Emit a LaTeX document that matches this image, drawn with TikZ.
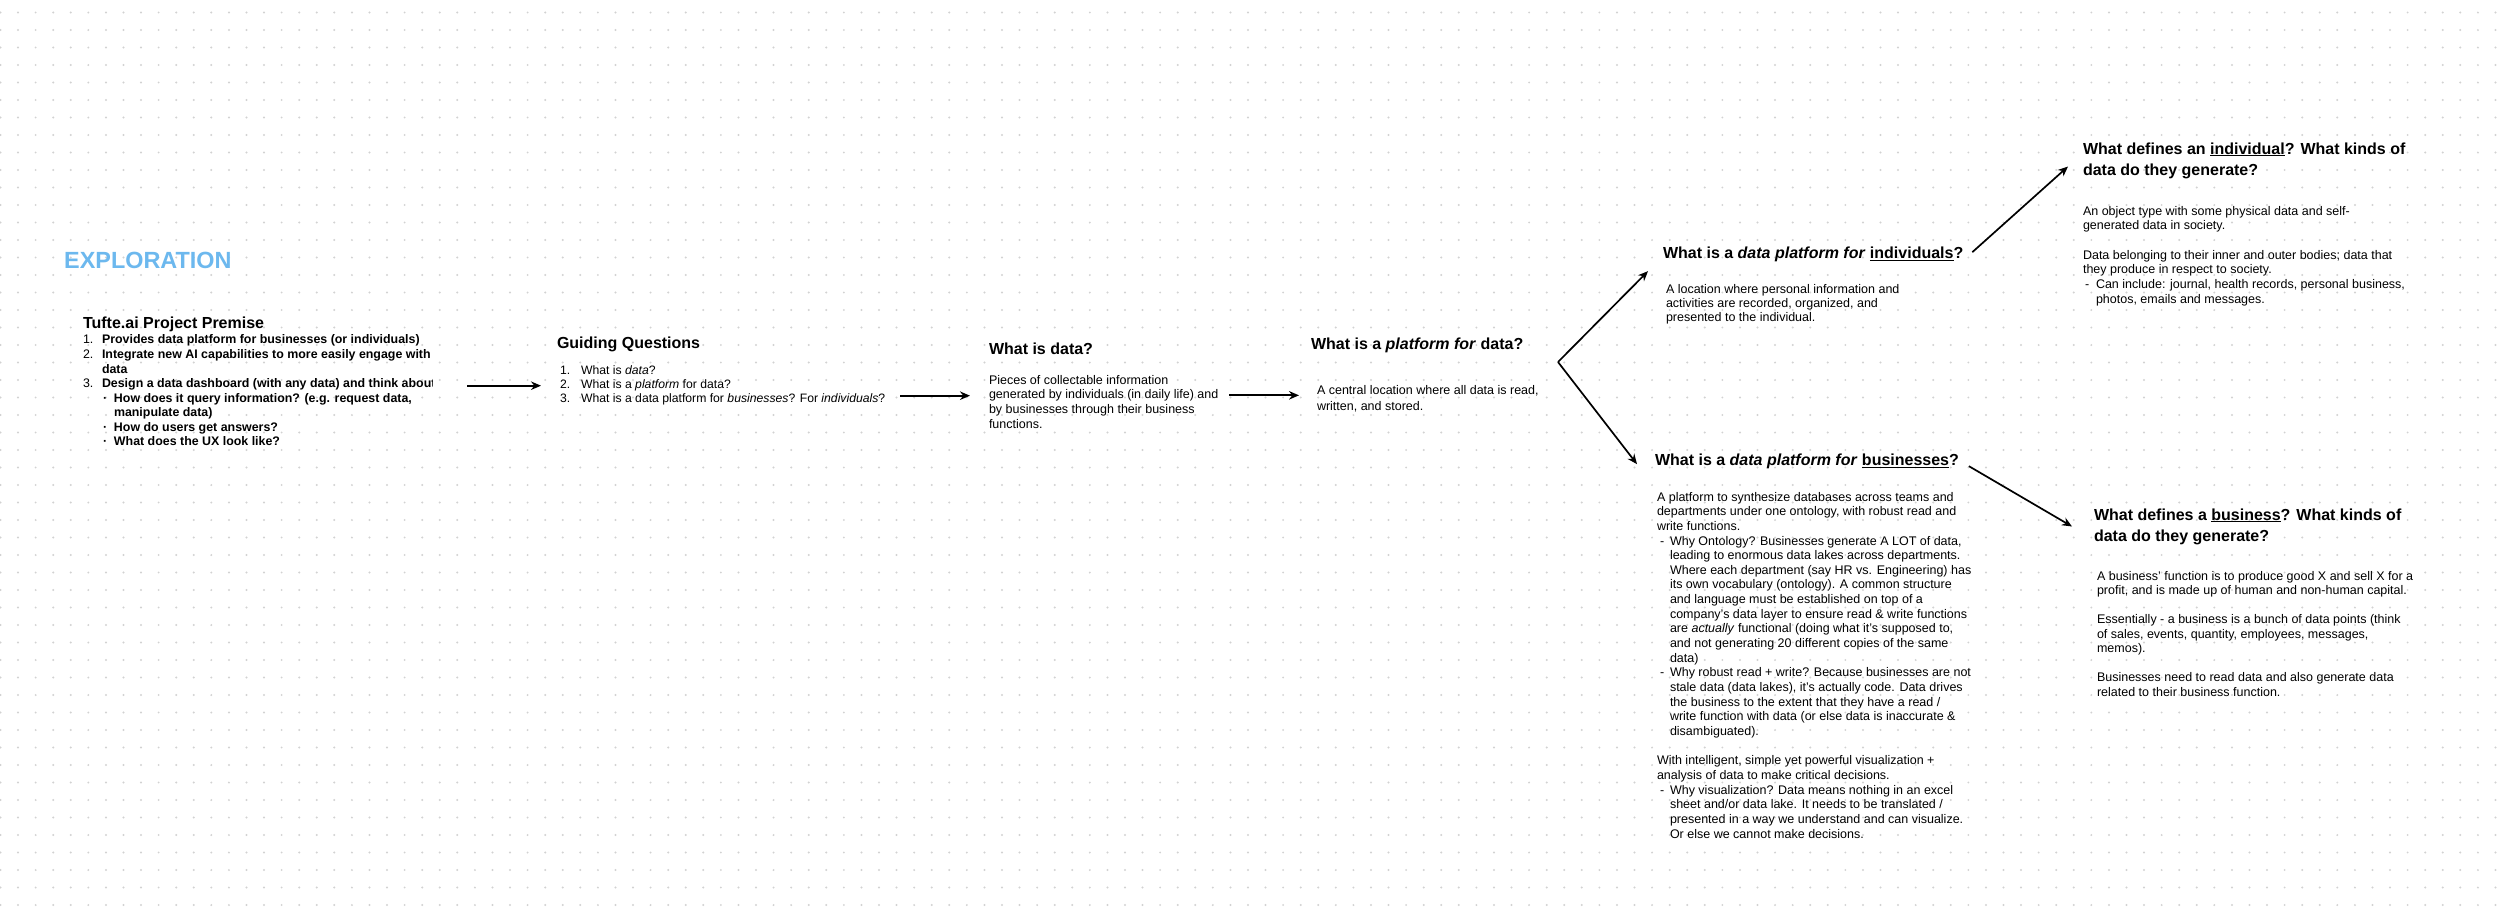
\documentclass[tikz,border=0pt]{standalone}
\usepackage{fontspec}
\setmainfont{Liberation Sans}
\usepackage{tikz}
\usetikzlibrary{arrows.meta}

\definecolor{exploreblue}{HTML}{6CB8EE}
\definecolor{griddot}{HTML}{D2D2D2}

\tikzset{
  hdr/.style={anchor=north west, inner sep=0pt, outer sep=0pt, align=left,
    font=\fontsize{16}{21}\selectfont\bfseries, yshift=8.5pt,
    execute at begin node={\rule{0pt}{14pt}}},
  body/.style={anchor=north west, inner sep=0pt, outer sep=0pt, align=left,
    font=\fontsize{12.5}{14.65}\selectfont, yshift=7pt,
    execute at begin node={\rule{0pt}{11pt}}},
  flow/.style={->, line width=1.7pt},
  dotrow/.style={griddot, line width=2.2pt, line cap=round, dash pattern=on 0pt off 17.57pt}
}

\begin{document}
\begin{tikzpicture}[x=1pt, y=-1pt, >={Stealth[length=10pt, width=8.5pt]}]

      % --- Canvas ---
      \fill[white] (0,0) rectangle (2500,911);
      \useasboundingbox (0,0) rectangle (2500,911);

      % --- Dot Grid ---
      \foreach \r in {0,...,51} {
        \draw[dotrow] (0.5, 12.5+17.5*\r) -- (2500, 12.5+17.5*\r);
      }

      % --- Section Label ---
      \node[anchor=base west, inner sep=0pt, text=exploreblue, font=\fontsize{23.4}{28}\selectfont\bfseries] (explore) at (64, 268.5) {EXPLORATION};

      % --- Project Premise ---
      \node[hdr] (ptitle) at (83, 323) {Tufte.ai Project Premise};
      \begin{scope}
        \clip (70,325) rectangle (432,465);
        \node[body, font=\fontsize{12.4}{14.57}\selectfont\bfseries] (premise) at (83, 342) {%
          \makebox[19pt][l]{\mdseries 1.}Provides data platform for businesses (or individuals)\\
          \makebox[19pt][l]{\mdseries 2.}Integrate new AI capabilities to more easily engage with\\
          \hspace*{19pt}data\\
          \makebox[19pt][l]{\mdseries 3.}Design a data dashboard (with any data) and think about\\
          \hspace*{20pt}\makebox[11pt][l]{·}How does it query information? (e.g. request data,\\
          \hspace*{31pt}manipulate data)\\
          \hspace*{20pt}\makebox[11pt][l]{·}How do users get answers?\\
          \hspace*{20pt}\makebox[11pt][l]{·}What does the UX look like?};
      \end{scope}

      % --- Guiding Questions ---
      \node[hdr] (gtitle) at (557, 343) {Guiding Questions};
      \node[body, font=\fontsize{12.2}{14}\selectfont] (guide) at (560, 373) {%
        \makebox[21pt][l]{1.}What is \textit{data}?\\
        \makebox[21pt][l]{2.}What is a \textit{platform} for data?\\
        \makebox[21pt][l]{3.}What is a data platform for \textit{businesses}? For \textit{individuals}?};

      % --- What is data? ---
      \node[hdr] (dtitle) at (989, 349) {What is data?};
      \node[body, font=\fontsize{12.5}{14.8}\selectfont] (databody) at (989, 382) {%
        Pieces of collectable information\\
        generated by individuals (in daily life) and\\
        by businesses through their business\\
        functions.};

      % --- Platform for data ---
      \node[hdr] (pftitle) at (1311, 344) {What is a \textit{platform for} data?};
      \node[body, font=\fontsize{12.5}{16}\selectfont] (pfbody) at (1317, 392) {%
        A central location where all data is read,\\
        written, and stored.};

      % --- Platform for individuals ---
      \node[hdr] (indtitle) at (1663, 253) {What is a \textit{data platform for} \underline{individuals}?};
      \node[body, font=\fontsize{12.5}{14}\selectfont] (indbody) at (1666, 291) {%
        A location where personal information and\\
        activities are recorded, organized, and\\
        presented to the individual.};

      % --- Platform for businesses ---
      \node[hdr] (bustitle) at (1655, 460) {What is a \textit{data platform for} \underline{businesses}?};
      \node[body] (busbody) at (1657, 499) {%
        A platform to synthesize databases across teams and\\
        departments under one ontology, with robust read and\\
        write functions.\\
        \hspace*{3pt}\makebox[10pt][l]{-}Why Ontology? Businesses generate A LOT of data,\\
        \hspace*{13pt}leading to enormous data lakes across departments.\\
        \hspace*{13pt}Where each department (say HR vs. Engineering) has\\
        \hspace*{13pt}its own vocabulary (ontology). A common structure\\
        \hspace*{13pt}and language must be established on top of a\\
        \hspace*{13pt}company's data layer to ensure read \& write functions\\
        \hspace*{13pt}are \textit{actually} functional (doing what it's supposed to,\\
        \hspace*{13pt}and not generating 20 different copies of the same\\
        \hspace*{13pt}data)\\
        \hspace*{3pt}\makebox[10pt][l]{-}Why robust read + write? Because businesses are not\\
        \hspace*{13pt}stale data (data lakes), it's actually code. Data drives\\
        \hspace*{13pt}the business to the extent that they have a read /\\
        \hspace*{13pt}write function with data (or else data is inaccurate \&\\
        \hspace*{13pt}disambiguated).\\[14.65pt]
        With intelligent, simple yet powerful visualization +\\
        analysis of data to make critical decisions.\\
        \hspace*{3pt}\makebox[10pt][l]{-}Why visualization? Data means nothing in an excel\\
        \hspace*{13pt}sheet and/or data lake. It needs to be translated /\\
        \hspace*{13pt}presented in a way we understand and can visualize.\\
        \hspace*{13pt}Or else we cannot make decisions.};

      % --- Defining an individual ---
      \node[hdr] (idtitle) at (2083, 151) {What defines an \underline{individual}? What kinds of\\data do they generate?};
      \node[body, font=\fontsize{12.5}{14.67}\selectfont] (idbody) at (2083, 213) {%
        An object type with some physical data and self-\\
        generated data in society.\\[14.67pt]
        Data belonging to their inner and outer bodies; data that\\
        they produce in respect to society.\\
        \hspace*{2pt}\makebox[11pt][l]{-}Can include: journal, health records, personal business,\\
        \hspace*{13pt}photos, emails and messages.};

      % --- Defining a business ---
      \node[hdr] (bdtitle) at (2094, 517) {What defines a \underline{business}? What kinds of\\data do they generate?};
      \node[body, font=\fontsize{12.5}{14.5}\selectfont] (bdbody) at (2097, 578) {%
        A business' function is to produce good X and sell X for a\\
        profit, and is made up of human and non-human capital.\\[14.5pt]
        Essentially - a business is a bunch of data points (think\\
        of sales, events, quantity, employees, messages,\\
        memos).\\[14.5pt]
        Businesses need to read data and also generate data\\
        related to their business function.};

      % --- Flow Arrows ---
      \coordinate (g3) at ([yshift=-10pt]guide.east);
      \coordinate (pfin) at ([yshift=3pt]pfbody.west);
      \coordinate (fork) at (1558, 362);

      \draw[flow, shorten <=32pt, shorten >=19pt] (premise.east |- guide.west) -- (guide.west);
      \draw[flow, shorten <=15pt, shorten >=19pt] (g3) -- (g3 -| databody.west);
      \draw[flow, shorten <=11pt, shorten >=18pt] (databody.east |- pfin) -- (pfin);

      % fork into the two platform kinds
      \draw[flow] (fork) -- ([xshift=-15pt, yshift=-18pt]indtitle.west);
      \draw[flow] (fork) -- ([xshift=-18pt, yshift=-4pt]bustitle.west);

      \draw[flow] ([xshift=9pt, yshift=1pt]indtitle.east) -- ([xshift=-15pt, yshift=-6pt]idtitle.west);
      \draw[flow] ([xshift=10pt, yshift=-6pt]bustitle.east) -- ([xshift=-22pt]bdtitle.west);

\end{tikzpicture}
\end{document}
